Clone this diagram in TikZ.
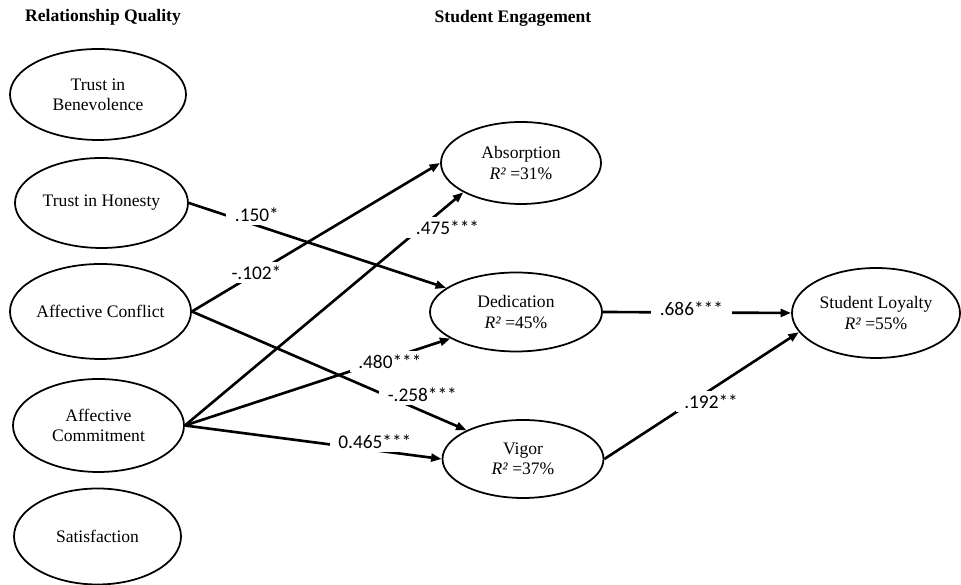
\documentclass[tikz,border=0pt]{standalone}
\usepackage{fontspec}
\setmainfont{Liberation Serif}
\newfontfamily\lblfont{Carlito}
\usetikzlibrary{shapes.geometric,arrows.meta}

\begin{document}
\begin{tikzpicture}[>={Triangle[length=6pt,width=4.5pt]},
	construct/.style={draw, ellipse, line width=1pt, inner sep=0pt, align=center, font=\fontsize{10}{11.5}\selectfont},
	heading/.style={font=\fontsize{10}{12}\selectfont\bfseries},
	effect/.style={->, line width=1.5pt},
	coef/.style={fill=white, inner xsep=5pt, inner ysep=2pt, font=\lblfont\fontsize{11}{13}\selectfont}]
	\useasboundingbox (0,0) rectangle (19.22,11.70);
	\node[heading] (rq) at (2.06,11.36) {Relationship Quality};
	\node[heading] (se) at (10.26,11.34) {Student Engagement};
	% relationship quality
	\node[construct, minimum width=3.52cm, minimum height=1.82cm] (tb) at (1.96,9.81) {Trust in\\Benevolence};
	\node[construct, minimum width=3.46cm, minimum height=1.80cm] (th) at (2.03,7.64) {Trust in Honesty};
	\node[construct, minimum width=3.50cm, minimum height=1.90cm] (ac) at (2.01,5.47) {Affective Conflict};
	\node[construct, minimum width=3.42cm, minimum height=1.86cm] (acm) at (1.97,3.19) {Affective\\Commitment};
	\node[construct, minimum width=3.34cm, minimum height=1.92cm] (sat) at (1.95,0.97) {Satisfaction};
	% student engagement
	\node[construct, minimum width=3.20cm, minimum height=1.64cm] (abs) at (10.42,8.44) {Absorption\\\textit{R²} =31\%};
	\node[construct, minimum width=3.44cm, minimum height=1.58cm] (ded) at (10.32,5.46) {Dedication\\\textit{R²} =45\%};
	\node[construct, minimum width=3.22cm, minimum height=1.56cm] (vig) at (10.46,2.52) {Vigor\\\textit{R²} =37\%};
	\node[construct, minimum width=3.36cm, minimum height=1.80cm] (sl) at (17.52,5.44) {Student Loyalty\\\textit{R²} =55\%};
	% paths
	\draw[effect] (th.east) -- node[coef, pos=0.245, xshift=0.1cm, yshift=0.19cm] {.150*} (ded.161);
	\draw[effect] (ac.east) -- node[coef, pos=0.26] {-.102*} (abs.west);
	\draw[effect] (acm.east) -- node[coef, pos=0.9, xshift=0.24cm, yshift=-0.24cm] {.475***} (abs.207);
	\draw[effect] (ac.east) -- node[coef, pos=0.866, xshift=-0.15cm, yshift=0.4cm] {-.258***} (vig.153);
	\draw[effect] (acm.east) -- node[coef, pos=0.74, yshift=0.18cm] {0.465***} (vig.west);
	\draw[effect] (acm.east) -- node[coef, pos=0.772, yshift=-0.06cm] {.480***} (ded.202);
	\draw[effect] (ded.east) -- node[coef, pos=0.47, yshift=0.08cm] {.686***} (sl.west);
	\draw[effect] (vig.east) -- node[coef, pos=0.52, xshift=0.11cm, yshift=-0.17cm] {.192**} (sl.194);
\end{tikzpicture}
\end{document}
